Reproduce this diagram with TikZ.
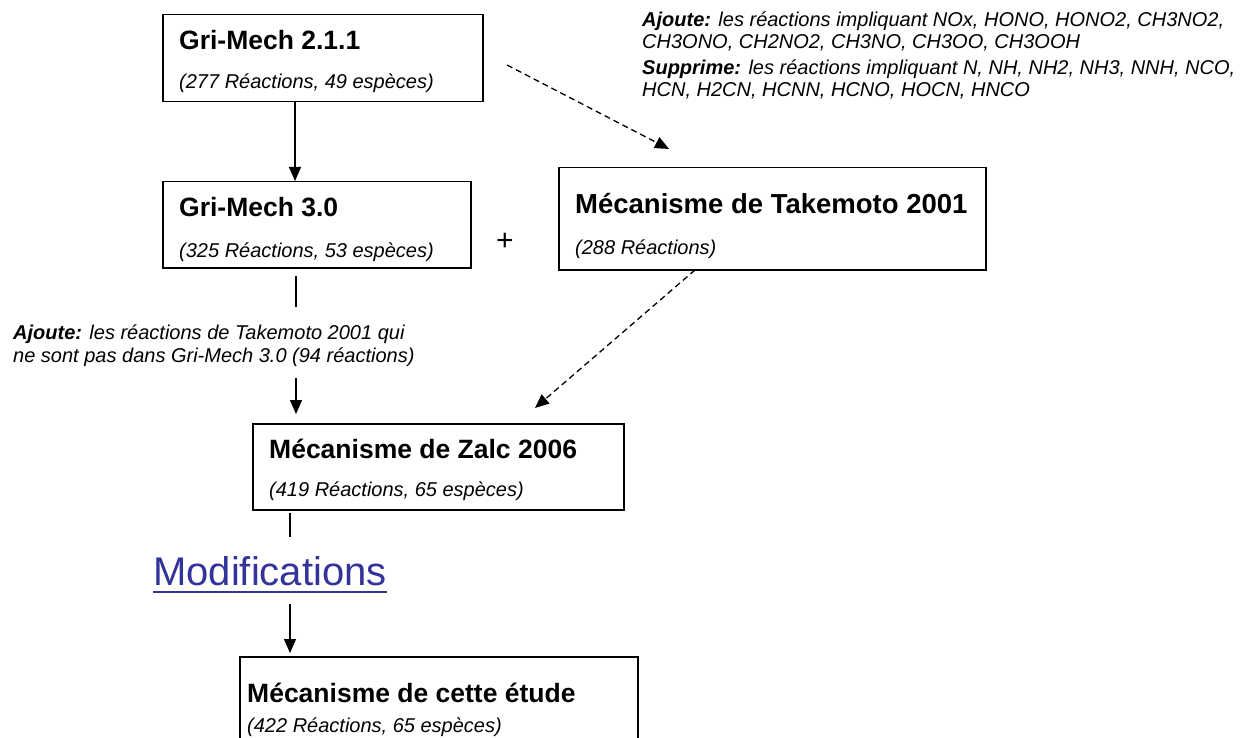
\documentclass[tikz,border=0pt]{standalone}
\usepackage{fontspec}
\setmainfont{Liberation Sans}
\usetikzlibrary{arrows.meta,calc}
\definecolor{linkblue}{RGB}{51,51,153}
\tikzset{
 box/.style={draw=black, line width=1.5pt, inner sep=0pt, anchor=north west},
 ttl/.style={anchor=base west, inner sep=0pt, font=\fontsize{26.5}{30}\selectfont\bfseries},
 sub/.style={anchor=base west, inner sep=0pt, font=\fontsize{20}{24}\selectfont\itshape},
 note/.style={anchor=base west, inner sep=0pt, font=\fontsize{20}{24}\selectfont\itshape},
 arr/.style={line width=1.3pt, -{Triangle[length=14pt,width=12pt]}},
 seg/.style={line width=1.3pt},
 darr/.style={line width=1.3pt, dash pattern=on 6pt off 4pt, -{Triangle[length=14pt,width=12pt]}},
}
\begin{document}
\begin{tikzpicture}[x=1pt,y=-1pt]
\clip (0,0) rectangle (1241,738);
\fill[white] (0,0) rectangle (1241,738);

% boxes
\node[box, minimum width=320pt, minimum height=87pt] (b1) at (162,14) {};
\node[box, minimum width=308pt, minimum height=86pt] (b2) at (162,181) {};
\node[box, minimum width=427pt, minimum height=102pt] (b3) at (558,167) {};
\node[box, minimum width=371pt, minimum height=86pt] (b4) at (252,423) {};
\node[box, minimum width=398pt, minimum height=120pt] (b5) at (239,656) {};

% box texts
\node[ttl] (t1) at (179,50) {Gri-Mech 2.1.1};
\node[sub] (s1) at (179,89) {(277 Réactions, 49 espèces)};
\node[ttl] (t2) at (179,216) {Gri-Mech 3.0};
\node[sub] (s2) at (179,257) {(325 Réactions, 53 espèces)};
\node[ttl, font=\fontsize{27.5}{31}\selectfont\bfseries] (t3) at (575,213) {Mécanisme de Takemoto 2001};
\node[sub] (s3) at (575,254) {(288 Réactions)};
\node[ttl] (t4) at (269,458) {Mécanisme de Zalc 2006};
\node[sub] (s4) at (269,496) {(419 Réactions, 65 espèces)};
\node[ttl] (t5) at (247,702) {Mécanisme de cette étude};
\node[sub] (s5) at (247,732) {(422 Réactions, 65 espèces)};

\node[inner sep=0pt, font=\fontsize{30}{34}\selectfont] (plus) at (505,242) {+};

% notes
\node[note] (n1) at (642,27) {{\bfseries Ajoute:} les réactions impliquant NOx, HONO, HONO2, CH3NO2,};
\node[note] (n2) at (642,49) {CH3ONO, CH2NO2, CH3NO, CH3OO, CH3OOH};
\node[note] (n3) at (642,75) {{\bfseries Supprime:} les réactions impliquant N, NH, NH2, NH3, NNH, NCO,};
\node[note] (n4) at (642,97) {HCN, H2CN, HCNN, HCNO, HOCN, HNCO};
\node[note] (l1) at (13,339) {{\bfseries Ajoute:} les réactions de Takemoto 2001 qui};
\node[note] (l2) at (13,362) {ne sont pas dans Gri-Mech 3.0 (94 réactions)};

\node[anchor=base west, inner sep=0pt, font=\fontsize{40}{46}\selectfont, text=linkblue] (mod) at (153,585) {Modifications};
\draw[linkblue, line width=2pt] ($(mod.base west)+(0,7)$) -- ($(mod.base east)+(0,7)$);

% connectors
\draw[arr] ($(b1.south west)+(133,0)$) -- ($(b2.north west)+(133,0)$);
\coordinate (c1) at (296,276);
\coordinate (c2) at (296,307);
\coordinate (c3) at (296,378);
\coordinate (c4) at (296,414);
\draw[seg] (c1) -- (c2);
\draw[arr] (c3) -- (c4);
\coordinate (c5) at (290,513);
\coordinate (c6) at (290,537);
\coordinate (c7) at (290,604);
\coordinate (c8) at (290,653);
\draw[seg] (c5) -- (c6);
\draw[arr] (c7) -- (c8);
\coordinate (d1) at (507,65);
\coordinate (d2) at (669,149);
\draw[darr] (d1) -- (d2);
\coordinate (d3) at (695,270);
\coordinate (d4) at (535,408);
\draw[darr] (d3) -- (d4);
\end{tikzpicture}
\end{document}
